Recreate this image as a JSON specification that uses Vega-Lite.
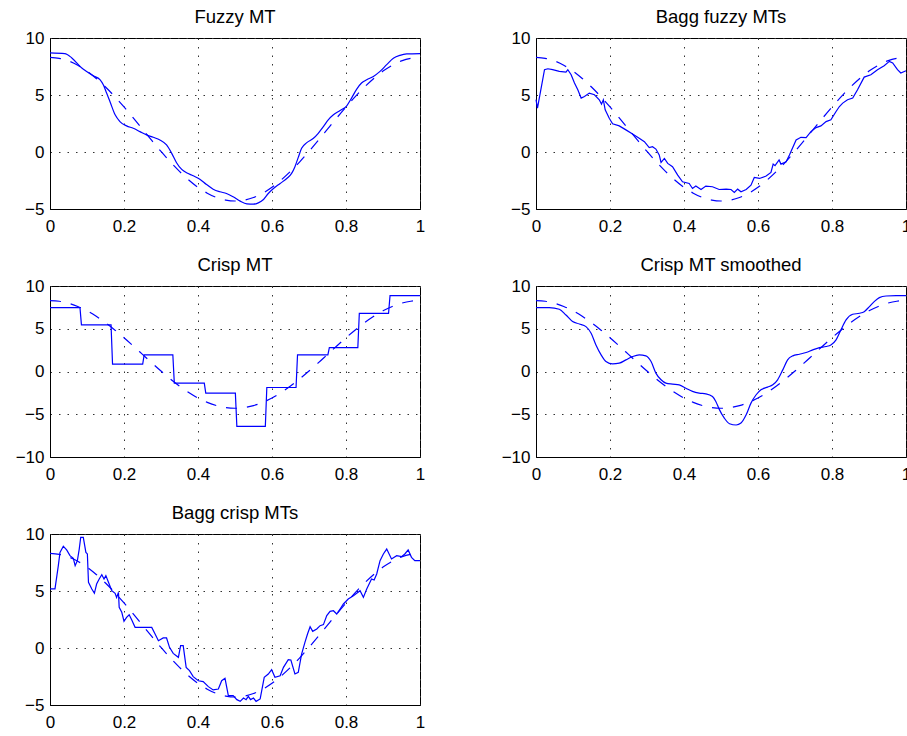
{
  "$schema": "https://vega.github.io/schema/vega-lite/v6.json",
  "autosize": {"type": "none"},
  "padding": {"left": 50, "top": 38, "right": 857, "bottom": 698},
  "background": "white",
  "bounds": "flush",
  "columns": 2,
  "spacing": {"row": 77, "column": 116},
  "datasets": {
    "truth": [
      {"x":0,"y":8.30},{"x":0.025,"y":8.22},{"x":0.05,"y":7.99},{"x":0.075,"y":7.61},{"x":0.1,"y":7.10},{"x":0.125,"y":6.45},{"x":0.15,"y":5.70},{"x":0.175,"y":4.86},{"x":0.2,"y":3.95},{"x":0.225,"y":2.99},{"x":0.25,"y":2.00},{"x":0.275,"y":1.01},{"x":0.3,"y":0.05},{"x":0.325,"y":-0.86},{"x":0.35,"y":-1.70},{"x":0.375,"y":-2.45},{"x":0.4,"y":-3.10},{"x":0.425,"y":-3.61},{"x":0.45,"y":-3.99},{"x":0.475,"y":-4.22},{"x":0.5,"y":-4.30},{"x":0.525,"y":-4.22},{"x":0.55,"y":-3.99},{"x":0.575,"y":-3.61},{"x":0.6,"y":-3.10},{"x":0.625,"y":-2.45},{"x":0.65,"y":-1.70},{"x":0.675,"y":-0.86},{"x":0.7,"y":0.05},{"x":0.725,"y":1.01},{"x":0.75,"y":2.00},{"x":0.775,"y":2.99},{"x":0.8,"y":3.95},{"x":0.825,"y":4.86},{"x":0.85,"y":5.70},{"x":0.875,"y":6.45},{"x":0.9,"y":7.10},{"x":0.925,"y":7.61},{"x":0.95,"y":7.99},{"x":0.975,"y":8.22},{"x":1,"y":8.30}
    ],
    "p1": [
      {"x":0,"y":8.69},{"x":0.04,"y":8.63},{"x":0.059,"y":8.25},{"x":0.086,"y":7.37},{"x":0.099,"y":7.07},{"x":0.117,"y":6.69},{"x":0.135,"y":6.34},{"x":0.144,"y":5.9},{"x":0.153,"y":5.17},{"x":0.162,"y":4.43},{"x":0.176,"y":3.26},{"x":0.189,"y":2.67},{"x":0.207,"y":2.29},{"x":0.225,"y":2.08},{"x":0.243,"y":1.79},{"x":0.261,"y":1.5},{"x":0.279,"y":1.29},{"x":0.297,"y":1.06},{"x":0.315,"y":0.62},{"x":0.329,"y":-0.12},{"x":0.342,"y":-0.94},{"x":0.356,"y":-1.53},{"x":0.369,"y":-1.82},{"x":0.387,"y":-2.08},{"x":0.405,"y":-2.38},{"x":0.423,"y":-2.85},{"x":0.441,"y":-3.26},{"x":0.459,"y":-3.49},{"x":0.477,"y":-3.64},{"x":0.495,"y":-3.93},{"x":0.514,"y":-4.31},{"x":0.532,"y":-4.55},{"x":0.55,"y":-4.58},{"x":0.563,"y":-4.46},{"x":0.577,"y":-4.17},{"x":0.59,"y":-3.64},{"x":0.604,"y":-3.2},{"x":0.622,"y":-2.76},{"x":0.64,"y":-2.32},{"x":0.653,"y":-1.88},{"x":0.662,"y":-1.29},{"x":0.671,"y":-0.47},{"x":0.68,"y":0.32},{"x":0.694,"y":0.82},{"x":0.712,"y":1.2},{"x":0.725,"y":1.64},{"x":0.739,"y":2.23},{"x":0.752,"y":2.82},{"x":0.766,"y":3.26},{"x":0.784,"y":3.64},{"x":0.802,"y":4.05},{"x":0.815,"y":4.73},{"x":0.829,"y":5.52},{"x":0.842,"y":6.05},{"x":0.856,"y":6.34},{"x":0.874,"y":6.63},{"x":0.892,"y":7.07},{"x":0.91,"y":7.66},{"x":0.928,"y":8.22},{"x":0.946,"y":8.48},{"x":0.964,"y":8.6},{"x":1,"y":8.63}
    ],
    "p2": [
      {"x":0,"y":4.6},{"x":0.004,"y":3.85},{"x":0.023,"y":7.22},{"x":0.032,"y":7.3},{"x":0.045,"y":7.22},{"x":0.063,"y":7.07},{"x":0.081,"y":7.01},{"x":0.086,"y":7.22},{"x":0.095,"y":6.78},{"x":0.104,"y":6.05},{"x":0.113,"y":5.46},{"x":0.122,"y":4.73},{"x":0.131,"y":4.87},{"x":0.144,"y":5.17},{"x":0.158,"y":5.02},{"x":0.171,"y":4.58},{"x":0.177,"y":4.2},{"x":0.182,"y":4.58},{"x":0.187,"y":3.7},{"x":0.198,"y":2.96},{"x":0.207,"y":2.47},{"x":0.225,"y":2.29},{"x":0.243,"y":1.94},{"x":0.261,"y":1.58},{"x":0.279,"y":1.2},{"x":0.293,"y":0.91},{"x":0.306,"y":0.38},{"x":0.315,"y":0.47},{"x":0.324,"y":0.26},{"x":0.333,"y":-0.26},{"x":0.338,"y":-0.91},{"x":0.347,"y":-0.56},{"x":0.356,"y":-1.0},{"x":0.369,"y":-1.29},{"x":0.383,"y":-2.03},{"x":0.396,"y":-2.61},{"x":0.414,"y":-2.76},{"x":0.423,"y":-3.2},{"x":0.432,"y":-2.99},{"x":0.446,"y":-3.29},{"x":0.459,"y":-2.99},{"x":0.477,"y":-3.05},{"x":0.495,"y":-3.29},{"x":0.514,"y":-3.26},{"x":0.527,"y":-3.29},{"x":0.536,"y":-3.55},{"x":0.545,"y":-3.26},{"x":0.554,"y":-3.49},{"x":0.568,"y":-3.29},{"x":0.581,"y":-2.91},{"x":0.59,"y":-2.23},{"x":0.604,"y":-2.32},{"x":0.622,"y":-2.11},{"x":0.635,"y":-1.79},{"x":0.641,"y":-1.06},{"x":0.646,"y":-1.2},{"x":0.657,"y":-0.7},{"x":0.662,"y":-1.06},{"x":0.676,"y":-0.85},{"x":0.685,"y":-0.26},{"x":0.703,"y":1.06},{"x":0.716,"y":1.29},{"x":0.73,"y":1.26},{"x":0.743,"y":1.79},{"x":0.757,"y":2.14},{"x":0.77,"y":2.29},{"x":0.784,"y":2.67},{"x":0.797,"y":2.82},{"x":0.811,"y":3.55},{"x":0.82,"y":3.99},{"x":0.829,"y":4.29},{"x":0.842,"y":4.58},{"x":0.856,"y":4.73},{"x":0.869,"y":5.46},{"x":0.887,"y":6.57},{"x":0.905,"y":6.78},{"x":0.923,"y":7.22},{"x":0.941,"y":7.57},{"x":0.955,"y":7.95},{"x":0.964,"y":7.81},{"x":0.977,"y":7.22},{"x":0.986,"y":6.93},{"x":1,"y":7.13}
    ],
    "p3": [
      {"x":0,"y":7.47},{"x":0.081,"y":7.47},{"x":0.085,"y":5.45},{"x":0.165,"y":5.45},{"x":0.169,"y":0.86},{"x":0.2505,"y":0.86},{"x":0.2545,"y":1.95},{"x":0.332,"y":1.95},{"x":0.336,"y":-1.36},{"x":0.417,"y":-1.36},{"x":0.421,"y":-2.53},{"x":0.501,"y":-2.53},{"x":0.505,"y":-6.42},{"x":0.582,"y":-6.42},{"x":0.586,"y":-1.87},{"x":0.665,"y":-1.87},{"x":0.669,"y":1.95},{"x":0.751,"y":1.95},{"x":0.755,"y":2.8},{"x":0.832,"y":2.8},{"x":0.836,"y":6.81},{"x":0.915,"y":6.81},{"x":0.919,"y":8.87},{"x":1,"y":8.87}
    ],
    "p4": [
      {"x":0,"y":7.47},{"x":0.036,"y":7.47},{"x":0.063,"y":7.28},{"x":0.081,"y":6.61},{"x":0.099,"y":5.84},{"x":0.117,"y":5.56},{"x":0.135,"y":5.25},{"x":0.149,"y":4.47},{"x":0.162,"y":3.11},{"x":0.176,"y":1.95},{"x":0.189,"y":1.17},{"x":0.207,"y":0.89},{"x":0.225,"y":0.97},{"x":0.243,"y":1.36},{"x":0.261,"y":1.75},{"x":0.279,"y":1.95},{"x":0.297,"y":1.83},{"x":0.311,"y":1.17},{"x":0.324,"y":-0.19},{"x":0.338,"y":-0.97},{"x":0.351,"y":-1.36},{"x":0.369,"y":-1.48},{"x":0.387,"y":-1.56},{"x":0.405,"y":-1.95},{"x":0.423,"y":-2.33},{"x":0.441,"y":-2.53},{"x":0.459,"y":-2.61},{"x":0.477,"y":-2.92},{"x":0.486,"y":-3.5},{"x":0.495,"y":-4.4},{"x":0.509,"y":-5.45},{"x":0.523,"y":-6.11},{"x":0.541,"y":-6.26},{"x":0.554,"y":-6.03},{"x":0.568,"y":-5.06},{"x":0.581,"y":-3.7},{"x":0.595,"y":-2.72},{"x":0.608,"y":-2.14},{"x":0.626,"y":-1.83},{"x":0.64,"y":-1.56},{"x":0.653,"y":-0.97},{"x":0.667,"y":0.19},{"x":0.68,"y":1.36},{"x":0.694,"y":1.83},{"x":0.712,"y":2.02},{"x":0.73,"y":2.22},{"x":0.748,"y":2.53},{"x":0.766,"y":2.8},{"x":0.784,"y":2.92},{"x":0.797,"y":3.11},{"x":0.811,"y":3.7},{"x":0.824,"y":4.86},{"x":0.838,"y":6.03},{"x":0.856,"y":6.69},{"x":0.874,"y":6.81},{"x":0.887,"y":7.0},{"x":0.901,"y":7.59},{"x":0.914,"y":8.17},{"x":0.928,"y":8.64},{"x":0.946,"y":8.83},{"x":0.973,"y":8.87},{"x":1,"y":8.87}
    ],
    "p5": [
      {"x":0,"y":5.18},{"x":0.0135,"y":5.18},{"x":0.0225,"y":7.22},{"x":0.027,"y":8.39},{"x":0.036,"y":8.92},{"x":0.045,"y":8.6},{"x":0.054,"y":8.1},{"x":0.063,"y":7.87},{"x":0.068,"y":7.22},{"x":0.074,"y":7.66},{"x":0.079,"y":8.68},{"x":0.083,"y":9.71},{"x":0.09,"y":9.71},{"x":0.097,"y":8.39},{"x":0.101,"y":8.25},{"x":0.104,"y":5.76},{"x":0.113,"y":5.18},{"x":0.12,"y":4.8},{"x":0.126,"y":5.61},{"x":0.133,"y":6.05},{"x":0.14,"y":6.43},{"x":0.146,"y":6.05},{"x":0.151,"y":6.35},{"x":0.158,"y":5.76},{"x":0.167,"y":5.03},{"x":0.176,"y":4.8},{"x":0.18,"y":4.44},{"x":0.185,"y":4.88},{"x":0.187,"y":3.57},{"x":0.194,"y":3.13},{"x":0.2,"y":2.34},{"x":0.207,"y":2.69},{"x":0.214,"y":2.92},{"x":0.221,"y":2.46},{"x":0.23,"y":1.81},{"x":0.243,"y":1.81},{"x":0.261,"y":1.81},{"x":0.275,"y":1.81},{"x":0.284,"y":1.23},{"x":0.293,"y":0.64},{"x":0.306,"y":0.88},{"x":0.315,"y":0.88},{"x":0.323,"y":0.06},{"x":0.333,"y":-0.47},{"x":0.347,"y":-0.82},{"x":0.353,"y":0.2},{"x":0.36,"y":0.2},{"x":0.368,"y":-1.7},{"x":0.377,"y":-1.99},{"x":0.387,"y":-2.51},{"x":0.401,"y":-2.87},{"x":0.414,"y":-2.95},{"x":0.428,"y":-3.39},{"x":0.441,"y":-3.68},{"x":0.455,"y":-3.6},{"x":0.464,"y":-2.87},{"x":0.473,"y":-2.66},{"x":0.482,"y":-4.18},{"x":0.495,"y":-4.18},{"x":0.505,"y":-4.53},{"x":0.514,"y":-4.68},{"x":0.523,"y":-4.39},{"x":0.53,"y":-4.53},{"x":0.536,"y":-4.24},{"x":0.542,"y":-4.53},{"x":0.55,"y":-4.39},{"x":0.557,"y":-4.68},{"x":0.568,"y":-4.47},{"x":0.579,"y":-2.57},{"x":0.59,"y":-2.28},{"x":0.599,"y":-1.9},{"x":0.608,"y":-2.57},{"x":0.622,"y":-2.43},{"x":0.631,"y":-1.7},{"x":0.644,"y":-1.02},{"x":0.651,"y":-1.05},{"x":0.662,"y":-2.28},{"x":0.671,"y":-2.13},{"x":0.68,"y":-0.53},{"x":0.689,"y":0.5},{"x":0.696,"y":1.23},{"x":0.703,"y":1.87},{"x":0.71,"y":1.46},{"x":0.721,"y":1.67},{"x":0.73,"y":1.96},{"x":0.739,"y":2.05},{"x":0.748,"y":2.84},{"x":0.757,"y":3.22},{"x":0.766,"y":3.27},{"x":0.775,"y":2.98},{"x":0.784,"y":3.42},{"x":0.793,"y":3.86},{"x":0.806,"y":4.3},{"x":0.82,"y":4.59},{"x":0.838,"y":5.03},{"x":0.847,"y":4.44},{"x":0.856,"y":5.18},{"x":0.869,"y":6.05},{"x":0.876,"y":5.96},{"x":0.883,"y":6.49},{"x":0.892,"y":7.66},{"x":0.901,"y":8.25},{"x":0.91,"y":8.68},{"x":0.923,"y":7.81},{"x":0.937,"y":8.1},{"x":0.95,"y":8.01},{"x":0.959,"y":8.25},{"x":0.968,"y":8.6},{"x":0.977,"y":7.95},{"x":0.986,"y":7.66},{"x":1,"y":7.66}
    ]
  },
  "concat": [
    {
      "title": "Fuzzy MT",
      "width": 370, "height": 171,
      "encoding": {
        "x": {"field": "x", "type": "quantitative", "scale": {"domain": [0, 1], "nice": false}, "axis": {"title": null, "values": [0, 0.2, 0.4, 0.6, 0.8, 1], "format": ".1~f"}},
        "y": {"field": "y", "type": "quantitative", "scale": {"domain": [-5, 10], "nice": false, "zero": false}, "axis": {"title": null, "values": [-5, 0, 5, 10], "format": "d"}}
      },
      "layer": [
        {"data": {"name": "truth"}, "mark": {"type": "line", "strokeDash": [11, 10], "interpolate": "monotone"}},
        {"data": {"name": "p1"}, "mark": {"type": "line", "interpolate": "monotone"}}
      ]
    },
    {
      "title": "Bagg fuzzy MTs",
      "width": 370, "height": 171,
      "encoding": {
        "x": {"field": "x", "type": "quantitative", "scale": {"domain": [0, 1], "nice": false}, "axis": {"title": null, "values": [0, 0.2, 0.4, 0.6, 0.8, 1], "format": ".1~f"}},
        "y": {"field": "y", "type": "quantitative", "scale": {"domain": [-5, 10], "nice": false, "zero": false}, "axis": {"title": null, "values": [-5, 0, 5, 10], "format": "d"}}
      },
      "layer": [
        {"data": {"name": "truth"}, "mark": {"type": "line", "strokeDash": [11, 10], "interpolate": "monotone"}},
        {"data": {"name": "p2"}, "mark": {"type": "line"}}
      ]
    },
    {
      "title": "Crisp MT",
      "width": 370, "height": 171,
      "encoding": {
        "x": {"field": "x", "type": "quantitative", "scale": {"domain": [0, 1], "nice": false}, "axis": {"title": null, "values": [0, 0.2, 0.4, 0.6, 0.8, 1], "format": ".1~f"}},
        "y": {"field": "y", "type": "quantitative", "scale": {"domain": [-10, 10], "nice": false, "zero": false}, "axis": {"title": null, "values": [-10, -5, 0, 5, 10], "format": "d"}}
      },
      "layer": [
        {"data": {"name": "truth"}, "mark": {"type": "line", "strokeDash": [11, 10], "interpolate": "monotone"}},
        {"data": {"name": "p3"}, "mark": {"type": "line"}}
      ]
    },
    {
      "title": "Crisp MT smoothed",
      "width": 370, "height": 171,
      "encoding": {
        "x": {"field": "x", "type": "quantitative", "scale": {"domain": [0, 1], "nice": false}, "axis": {"title": null, "values": [0, 0.2, 0.4, 0.6, 0.8, 1], "format": ".1~f"}},
        "y": {"field": "y", "type": "quantitative", "scale": {"domain": [-10, 10], "nice": false, "zero": false}, "axis": {"title": null, "values": [-10, -5, 0, 5, 10], "format": "d"}}
      },
      "layer": [
        {"data": {"name": "truth"}, "mark": {"type": "line", "strokeDash": [11, 10], "interpolate": "monotone"}},
        {"data": {"name": "p4"}, "mark": {"type": "line", "interpolate": "monotone"}}
      ]
    },
    {
      "title": "Bagg crisp MTs",
      "width": 370, "height": 171,
      "encoding": {
        "x": {"field": "x", "type": "quantitative", "scale": {"domain": [0, 1], "nice": false}, "axis": {"title": null, "values": [0, 0.2, 0.4, 0.6, 0.8, 1], "format": ".1~f"}},
        "y": {"field": "y", "type": "quantitative", "scale": {"domain": [-5, 10], "nice": false, "zero": false}, "axis": {"title": null, "values": [-5, 0, 5, 10], "format": "d"}}
      },
      "layer": [
        {"data": {"name": "truth"}, "mark": {"type": "line", "strokeDash": [11, 10], "interpolate": "monotone"}},
        {"data": {"name": "p5"}, "mark": {"type": "line"}}
      ]
    }
  ],
  "config": {
    "font": "Liberation Sans",
    "view": {"stroke": "#000000", "strokeWidth": 1},
    "axis": {
      "domainColor": "#000000", "domainWidth": 1,
      "grid": true, "gridColor": "#333333", "gridDash": [1.5, 7], "gridOpacity": 1, "gridWidth": 1,
      "ticks": false, "tickSize": 0,
      "labelFont": "Liberation Sans", "labelFontSize": 17, "labelColor": "#000000",
      "labelFlush": false, "labelOverlap": false
    },
    "axisX": {"labelPadding": 9},
    "axisY": {"labelPadding": 6},
    "title": {"font": "Liberation Sans", "fontSize": 18.5, "fontWeight": "normal", "color": "#000000", "offset": 3, "frame": "group"},
    "line": {"color": "#0000ff", "strokeWidth": 1.2}
  }
}
